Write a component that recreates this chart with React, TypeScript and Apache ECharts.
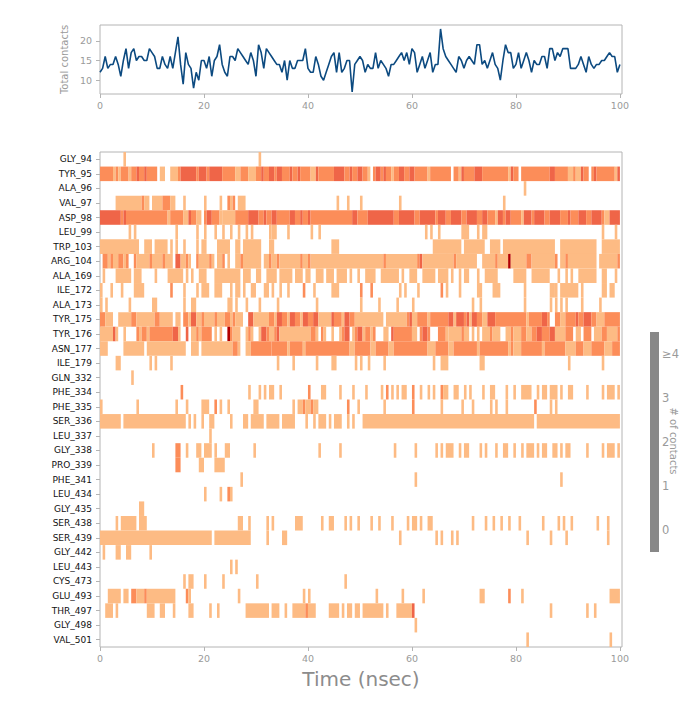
import { useEffect, useRef } from 'react';
import * as echarts from 'echarts';

// time between frames, nsec
const FRAME_STEP = 0.5;

// total number of contacts per frame (0 .. 100 nsec)
const totalContacts = [
    12, 13, 16, 13, 14, 14, 16, 14, 11, 15, 18, 13, 17, 18, 15, 16, 16, 15, 15, 18, 17, 16, 13, 13, 16, 14, 13, 16, 13, 17,
    21,
    14, 9, 17, 14, 13, 8, 12, 10, 15, 15, 13, 16, 11, 15, 16,
    19,
    14, 12, 11, 16, 16, 15, 18, 17, 16, 15, 14, 17, 15, 11, 19, 17, 13, 18, 17, 16, 15, 14, 14, 12, 15,
    10, 15, 13, 13, 15, 15, 15, 18, 13, 12, 12, 16, 14, 11, 10, 12, 14, 16, 17, 12, 17, 12, 13, 15, 15,
    7,
    14, 15, 16, 15, 12, 14, 13, 13, 17, 13, 15, 14, 13, 11, 14, 14, 15, 16, 17, 15, 17, 14, 18, 17, 12, 14, 16, 13, 15, 17, 12, 14, 14,
    23,
    18, 16, 15, 14, 13, 12, 16, 15, 13, 15, 16, 15, 14, 19, 19, 14, 15, 13, 15, 17, 14, 13, 10, 15, 19, 17, 17, 13, 14, 17, 13, 15, 17, 15, 12,
    15, 14, 14, 16, 16, 13, 18, 18, 15, 17, 16, 18, 18, 18, 13, 13, 13, 14, 16, 14, 12, 16, 14, 13, 14, 14, 15, 15, 16, 17, 16, 16, 12, 14,
];

const residues = [
    'GLY_94', 'TYR_95', 'ALA_96', 'VAL_97', 'ASP_98', 'LEU_99', 'TRP_103', 'ARG_104', 'ALA_169', 'ILE_172',
    'ALA_173', 'TYR_175', 'TYR_176', 'ASN_177', 'ILE_179', 'GLN_332', 'PHE_334', 'PHE_335', 'SER_336', 'LEU_337',
    'GLY_338', 'PRO_339', 'PHE_341', 'LEU_434', 'GLY_435', 'SER_438', 'SER_439', 'GLY_442', 'LEU_443', 'CYS_473',
    'GLU_493', 'THR_497', 'GLY_498', 'VAL_501',
];

// contact runs per residue: "start-end[:count]" in nsec, count defaults to 1
const contactRuns = [
    '4.5-5 30.5-31',
    '0-2.5:2 2.5-3 3-3.5:2 3.5-4 4-5.5:2 5.5-6 6-7:2 7-7.5:3 7.5-8.5:2 8.5-9:3 9-11:2 11.5-12.5 13.5-15 15-15.5:2 15.5-18.5:3 18.5-19:2 19-20.5:3 20.5-21:2 21-23.5:3 23.5-26:2 26-27 27-28.5:2 28.5-30 30-31:2 31-31.5:3 31.5-32.5:2 32.5-33.5:3 ' +
    '33.5-34:2 34-35:3 35-36.5:2 36.5-37:3 37-38:2 38-38.5:3 38.5-40.5:2 40.5-41.5 41.5-42:3 42-45:2 45-47:3 47-48:2 48-48.5:3 48.5-49.5:2 49.5-50.5:3 50.5-51.5:2 51.5-52 52.5-53:2 53-54:3 54-54.5:2 54.5-55:3 55-56:2 56-56.5 56.5-57.5:2 57.5-58.5:3 58.5-59.5:2 59.5-60.5:3 60.5-63:2 63-63.5 63.5-67.5:2 ' +
    '68-69:2 69-69.5 69.5-70:3 70-72:2 72-73.5:3 73.5-78.5:2 78.5-79 79-79.5:3 79.5-80.5:2 81-86.5:2 86.5-87.5:3 87.5-90:2 90-91 91-91.5:2 91.5-92.5 92.5-93:3 93-94:2 94.5-95:2 95-95.5:3 95.5-99:2 99-99.5 99.5-100:3',
    '81.5-82',
    '3-8 8-8.5:2 8.5-9.5 10-12 12-13.5:2 13.5-14.5 16-16.5 20-20.5 23-23.5 24.5-25:2 25-25.5 25.5-26:2 26.5-28 45.5-46 47.5-48 50-50.5 57.5-58 77.5-78',
    '0-4:3 4-4.5:2 4.5-5:3 5-13:2 13-13.5 13.5-16:2 16-17 17-17.5:3 17.5-18.5:2 18.5-19.5 20-20.5:2 20.5-21.5:3 21.5-23:2 23-23.5 23.5-26 26-28.5:2 28.5-30.5:3 30.5-31.5:2 31.5-32:3 32-33:2 ' +
    '33-34:3 34-36.5:2 36.5-37.5:3 37.5-38.5:2 38.5-39:3 39-40:2 40-40.5:3 40.5-48.5:2 48.5-49.5:3 49.5-51.5:2 51.5-56.5:3 56.5-57.5:2 57.5-60.5:3 60.5-61.5:2 61.5-64.5:3 64.5-65:2 65-66.5:3 ' +
    '66.5-67.5:2 67.5-69.5:3 69.5-70.5:2 70.5-72.5:3 72.5-73.5:2 73.5-74.5:3 74.5-76:2 76-76.5 76.5-77.5:3 77.5-78:2 78-79:3 79-81:2 81-81.5 81.5-83:3 83-83.5:2 83.5-85.5:3 85.5-86.5:2 86.5-88.5:3 88.5-90:2 90-90.5:3 90.5-92:2 92-93.5:3 93.5-94.5:2 94.5-96.5:3 96.5-97:2 97-98 98-100:3',
    '5.5-6 6.5-7 14.5-15 18.5-19 20-20.5 22-22.5 23.5-24 25-25.5 26.5-27 28-28.5 29-29.5 32.5-33 33-34 36-36.5 40.5-41 42-42.5 62.5-63 63.5-64 65-65.5 69.5-71 72.5-73 73.5-74.5 96.5-97 99-99.5',
    '0-7.5 8.5-10 10.5-13 13.5-14 14.5-15 16-16.5 18.5-19 19.5-20.5 22.5-25 26-27 27.5-31 32.5-33.5 44.5-46 64-69.5 70-74 75-77 77.5-87.5 88.5-95.5 96.5-100',
    '0.5-1.5:2 1.5-2 2-2.5:2 2.5-3.5 3.5-4.5:2 4.5-5 5-5.5:2 6.5-7:2 7-9.5 9.5-10:2 10-12 12-12.5:2 12.5-14 14.5-15.5:3 15.5-16.5 16.5-17:2 17-17.5 18.5-19:2 19-21 21-21.5:2 21.5-22 22.5-23.5 23.5-24:2 24.5-25 26-27 27-27.5:2 27.5-31 31.5-32.5 32.5-33:2 ' +
    '33-34 34-34.5:2 34.5-38.5 38.5-39:2 39-40 40-40.5:2 40.5-54.5 54.5-55:2 55-61 61-61.5:2 61.5-62:3 62-67 ' +
    '66.5-68 68-68.5:2 68.5-72.5 73.5-76 76-76.5:2 76.5-78.5 78.5-79:4 79-82 82-83:2 83-87.5 87.5-88:2 88.5-89.5 89.5-90:2 90-95.5 96-99.5 99.5-100:2',
    '0.5-1 3-6 6.5-8 10.5-11 13-16 16.5-17 17.5-18 19-20.5 22-27 27.5-29 30-31 32-34 34.5-37 37.5-39 39.5-40.5 41.5-43 43.5-45 45.5-47.5 48-48.5 49.5-50 51-53 54-57.5 58-58.5 59.5-61 62-64.5 65-67 67.5-68 69-69.5 70-71 72.5-73 74-76.5 79.5-82 83-86.5 88-88.5 89.5-90 90.5-91 92-95.5 96.5-97.5 99-99.5',
    '0-0.5 2-2.5 4-4.5 6.5-8.5 13.5-14:2 16-16.5 18.5-19 19.5-21 22-23.5 25-25.5 26-27 27.5-28 29-30 31.5-32.5 33-33.5 34.5-35 36-36.5 39-39.5:2 41-41.5 44.5-46 50-50.5:2 52-52.5:2 57.5-58 58.5-59 61-61.5 65.5-66:2 66.5-67 69-69.5 72.5-73.5 75.5-77 81.5-82 86.5-87.5 87.5-88 88.5-92 92.5-93 96.5-97.5 98-99',
    '0-0.5 1-1.5 5.5-6 10-11 16-16.5 17.5-18.5 24.5-25.5 26-26.5 28-28.5 30.5-31 34-34.5 41.5-42 50-50.5 53.5-54 57-57.5 60-60.5 71.5-72 73-73.5 81.5-82 86.5-87 87.5-88 88.5-89 89.5-90 92.5-93 96-96.5',
    '0-1:2 1-2.5 3.5-6 6-7:2 7-10.5 10.5-11.5:2 11.5-14 14.5-15.5 16-17:2 17-17.5 17.5-18.5:3 18.5-19.5 19.5-20:2 20-22 22-22.5:2 22.5-24 24-25:2 25-25.5 25.5-26:2 26-27.5 28.5-29.5:3 29.5-32.5 32.5-33.5:2 ' +
    '33.5-34 34-35:3 35-36:2 36-36.5 36.5-37.5:3 37.5-38.5:2 38.5-39 39-40:3 40-41:2 41-42:3 42-44.5 44.5-45:3 45-46.5:2 46.5-47 47-48:3 48-49:2 49-54.5 55-59 59-59.5:2 59.5-60:3 60-61 61-63:2 63-63.5 63.5-67:2 ' +
    '67-68:3 68-68.5 68.5-70:3 70-70.5:2 70.5-71:3 71-71.5 71.5-72.5:3 72.5-73.5:2 73.5-74.5 74.5-76:3 76-82:2 82-82.5 82.5-85:2 85-86:3 86-86.5:2 87.5-88.5:2 88.5-89.5 89.5-91.5:2 91.5-92:3 92-93:2 93-94.5:3 94.5-95.5:2 95.5-97 97-100:2',
    '0-2.5 2.5-3:3 3-3.5 4.5-5 7-7.5:2 7.5-8 8-9:2 9-9.5 9.5-14:2 14-15:3 15-15.5 16.5-17:3 17.5-18.5 18.5-19:2 19-19.5 19.5-21.5:2 22-22.5 23-23.5 24.5-25:4 25-25.5:2 25.5-27 28-28.5 28.5-29:2 29-29.5 30.5-31 31-32:3 32-32.5:2 32.5-33.5 ' +
    '33.5-34:2 34-34.5:3 34.5-40.5 40.5-41.5:2 41.5-42 42.5-43:2 43-43.5 44.5-45 46-46.5 46.5-47:2 47-48:3 48.5-49 49-49.5:2 49.5-50.5:3 50.5-51 51-52:2 52-52.5 52.5-53:2 54.5-55.5 56-56.5:3 56.5-60:2 60-61 61.5-62:2 62-63:3 63-63.5:2 65-66.5:2 66.5-67 ' +
    '67-69.5 69.5-70:2 70-71 71.5-72 72.5-73 73.5-75 75-75.5:2 75.5-77 78-79 79-79.5:2 79.5-81 81-82:2 82-83 83-84:2 84-85:3 85-86.5:2 86.5-87.5:3 87.5-89.5 89.5-91:2 91.5-92.5 93-94.5:2 95-96.5 96.5-97.5:2 97.5-99.5 99.5-100:2',
    '0-1.5 4.5-8.5 9-16.5 17.5-19 19.5-25.5 25.5-26.5:2 26.5-27 28-29 29-33:2 ' +
    '33-36:2 36-36.5 36.5-39:2 39-39.5 39.5-48:2 48-49 49-52:2 52-53 53-55.5:2 55.5-56.5 56.5-63:2 63-64.5 64.5-67:2 ' +
    '67-68 68-72.5:2 72.5-73 73-78.5:2 78.5-79 79-79.5:2 79.5-81 81-85:2 85-85.5 85.5-89.5:2 89.5-91.5 91.5-93:2 93-94.5 94.5-97:2 97-98.5 98.5-100:2',
    '3-4 9.5-10 10.5-11 13.5-14 34-34.5 37-37.5 41.5-42 44.5-45.5 49-49.5 50-50.5 51.5-52 54.5-55 64-64.5 65.5-67 73-74 90-90.5 96.5-97',
    '6-6.5',
    '15.5-16:2 28.5-29 30.5-31 31.5-32 32.5-33.5 34.5-35 40-40.5:2 42.5-43.5 46-46.5 48.5-49 51-51.5 54-54.5 55-55.5:2 56-56.5 57-57.5 58-59 60-60.5:2 61.5-62 63-63.5 64-64.5 65.5-66:2 66-67 68-69 70-70.5 71-71.5 73.5-74 75-76 78-78.5 79.5-80 81-83 84-84.5 85-86 86.5-88 88.5-89 90-91 93.5-94 96.5-97 97.5-99 99.5-100',
    '0-0.5 7-7.5 14.5-15 16.5-17 19.5-21 22-22.5:2 23-23.5 24.5-25 29.5-30.5 37-37.5 38-39 39-39.5:2 39.5-40.5 40.5-41:2 41-42 47.5-48:2 49.5-50 54.5-55 60-60.5:2 65.5-66 69.5-70 71.5-72 75-75.5 76-76.5 78-78.5 83.5-84:2 86.5-87 87.5-88',
    '0-4 4.5-16.5 17-17.5 18-18.5 19.5-20 21-22 25-25.5 27.5-28.5 29-31.5 32-34.5 35-37.5 39.5-40 41-41.5 42-43.5 44-44.5 45-46.5 47.5-48 48.5-49 50.5-83.5 84-100',
    '21-21.5',
    '10-10.5 14.5-15.5:2 16.5-17 18.5-19.5 20-21.5 22-22.5 24-25 29.5-30 42-42.5 46-46.5 56.5-57 60.5-61 64.5-65 65.5-66 66.5-68 69-69.5 70-71 73-73.5 74-74.5 76-76.5 77.5-78.5 79.5-80 81-81.5 82-83.5 84-84.5 85-86 87-88 88.5-89 89.5-90.5 93.5-94 96.5-97 97.5-99 99.5-100',
    '14.5-15.5:2 19-20 22-24',
    '27-27.5 60.5-61 88.5-89',
    '20-20.5 23-23.5 24.5-25:2 25-25.5',
    '7.5-8.5',
    '3-3.5 4-7 7.5-9 26.5-27.5 28.5-29 32-32.5 33-33.5 37.5-39 42.5-43 44-45 47-47.5 48-48.5 49.5-50 52-52.5 53.5-54 56-56.5 59-59.5 60-61 61.5-62 63-64 71.5-72 74-74.5 75.5-76 77-77.5 78.5-79 80.5-81 85-85.5 88-88.5 89-89.5 90.5-91 95.5-96 97.5-98',
    '0-21.5 22-29 32-32.5 35-36 57.5-58 64.5-65 65.5-66 67.5-68 68.5-69 82-82.5 86.5-87 89.5-90 97.5-98',
    '0.5-1 3-4 5-6 9.5-10',
    '25-25.5 26-26.5',
    '16-16.5 17-18 20-20.5 23.5-24 30-30.5 47-47.5',
    '1.5-4 4.5-5.5 6-7:2 7-8.5 8.5-9:2 9-14.5 16.5-17:2 17-17.5 26.5-27 39-39.5 40-40.5 53-53.5 58-58.5 62-62.5 73-74 78.5-79:2 81-81.5 98-100',
    '1-2.5 3-3.5 9-10.5 11.5-12.5 14-14.5 17-18 21-21.5 22.5-23 28-32.5 33-34.5 35.5-36 37-39.5 39.5-40:2 40-41.5 44-46 46.5-47 47.5-48.5 49-50 50.5-54.5 55-55.5 57-60 60-60.5:3 86.5-87 93.5-94 95-95.5',
    '60.5-61',
    '82-82.5 98-98.5',
];

const timeTicks = [0, 20, 40, 60, 80, 100];
const contactTicks = [10, 15, 20];
const colorbarLabels = ['0', '1', '2', '3', '\u22654'];

// OrRd-like shades for 1, 2, 3, >=4 contacts
const contactColors = ['#ffffff', '#fdbb84', '#fc8d59', '#ef6548', '#b30000'];

const GRAY = '#8c8c8c';
const LIGHT_GRAY = '#9a9a9a';
const FONT = 'DejaVu Sans';

function parseRuns(row: string, rowIndex: number) {
    return row.trim().split(/\s+/).filter(Boolean).map((tok) => {
        const [range, count] = tok.split(':');
        const [start, end] = range.split('-').map(Number);
        return [start, end, rowIndex, count ? Number(count) : 1];
    });
}

export default function App() {
    const chartRef = useRef<HTMLDivElement>(null);

    useEffect(() => {
        if (!chartRef.current) return;
        const chart = echarts.init(chartRef.current, null, { renderer: 'svg' });

        const lineData = totalContacts.map((v, i) => [i * FRAME_STEP, v]);
        const cells = contactRuns.flatMap((row, i) => parseRuns(row, i));

        const axisText = { color: LIGHT_GRAY, fontSize: 9.5, fontFamily: FONT };

        const option = {
            animation: false,
            grid: [
                { left: 100, top: 25, width: 522, height: 69, show: true, borderColor: '#b4b4b4', borderWidth: 1 },
                { left: 100, top: 152, width: 522, height: 495, show: true, borderColor: '#b4b4b4', borderWidth: 1 },
            ],
            xAxis: [
                {
                    gridIndex: 0, type: 'value', min: 0, max: 100.4,
                    axisLine: { show: false },
                    axisTick: { show: true, length: 4, lineStyle: { color: '#b4b4b4' }, customValues: timeTicks },
                    axisLabel: { ...axisText, margin: 6, customValues: timeTicks },
                    splitLine: { show: false },
                },
                {
                    gridIndex: 1, type: 'value', min: 0, max: 100.4,
                    name: 'Time (nsec)', nameLocation: 'middle', nameGap: 22,
                    nameTextStyle: { color: GRAY, fontSize: 20, fontFamily: FONT },
                    axisLine: { show: false },
                    axisTick: { show: true, length: 4, lineStyle: { color: '#b4b4b4' }, customValues: timeTicks },
                    axisLabel: { ...axisText, margin: 6, customValues: timeTicks },
                    splitLine: { show: false },
                },
            ],
            yAxis: [
                {
                    gridIndex: 0, type: 'value', min: 6.5, max: 24,
                    name: 'Total contacts', nameLocation: 'middle', nameGap: 26, nameRotate: 90,
                    nameTextStyle: { color: LIGHT_GRAY, fontSize: 10, fontFamily: FONT },
                    axisLine: { show: false },
                    axisTick: { show: true, length: 4, lineStyle: { color: '#b4b4b4' }, customValues: contactTicks },
                    axisLabel: { ...axisText, margin: 8, customValues: contactTicks },
                    splitLine: { show: false },
                },
                {
                    gridIndex: 1, type: 'category', data: residues, inverse: true,
                    axisLine: { show: false },
                    axisTick: { show: true, length: 4, alignWithLabel: true, lineStyle: { color: '#b4b4b4' } },
                    axisLabel: { color: '#111', fontSize: 9, fontFamily: FONT, margin: 8, interval: 0 },
                    splitLine: { show: false },
                },
            ],
            series: [
                {
                    type: 'line',
                    xAxisIndex: 0,
                    yAxisIndex: 0,
                    data: lineData,
                    showSymbol: false,
                    lineStyle: { color: '#0c4a80', width: 1.6 },
                },
                {
                    type: 'custom',
                    xAxisIndex: 1,
                    yAxisIndex: 1,
                    data: cells,
                    encode: { x: [0, 1], y: 2 },
                    clip: true,
                    renderItem: (_params: any, api: any) => {
                        const row = api.value(2);
                        const p0 = api.coord([api.value(0), row]);
                        const p1 = api.coord([api.value(1), row]);
                        const h = api.size([0, 1])[1];
                        return {
                            type: 'rect',
                            shape: { x: p0[0], y: p0[1] - h / 2, width: p1[0] - p0[0], height: h },
                            style: { fill: contactColors[Math.min(api.value(3), 4)] },
                        };
                    },
                },
            ],
            graphic: [
                { type: 'rect', shape: { x: 650, y: 332, width: 9, height: 220 }, style: { fill: '#888888' } },
                ...colorbarLabels.map((label, i) => ({
                    type: 'text',
                    x: 662,
                    y: 530 - i * 44,
                    style: { text: label, fill: LIGHT_GRAY, fontSize: 11.5, fontFamily: FONT, textVerticalAlign: 'middle' },
                })),
                {
                    type: 'text',
                    x: 673,
                    y: 441,
                    rotation: -Math.PI / 2,
                    style: {
                        text: '# of contacts', fill: LIGHT_GRAY, fontSize: 10, fontFamily: FONT,
                        textAlign: 'center', textVerticalAlign: 'middle',
                    },
                },
            ],
        };

        chart.setOption(option);

        return () => {
            chart.dispose();
        };
    }, []);

    return (
        <div
            ref={chartRef}
            style={{ position: 'absolute', left: 0, top: 0, width: 696, height: 710, background: '#fff' }}
        />
    );
}
